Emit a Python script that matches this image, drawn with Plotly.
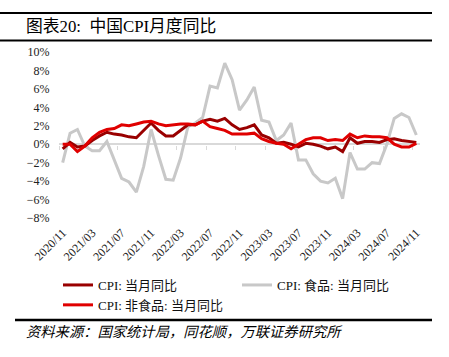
import plotly.graph_objects as go

# ---- data ----
months = ["2020/11", "2020/12"] + \
    [f"2021/{m:02d}" for m in range(1, 13)] + \
    [f"2022/{m:02d}" for m in range(1, 13)] + \
    [f"2023/{m:02d}" for m in range(1, 13)] + \
    [f"2024/{m:02d}" for m in range(1, 12)]

cpi = [-0.5, 0.2,
       -0.3, -0.2, 0.4, 0.9, 1.3, 1.1, 1.0, 0.8, 0.7, 1.5, 2.3, 1.5,
       0.9, 0.9, 1.5, 2.1, 2.1, 2.5, 2.7, 2.5, 2.8, 2.1, 1.6, 1.8,
       2.1, 1.0, 0.7, 0.1, 0.2, 0.0, -0.3, 0.1, 0.0, -0.2, -0.5, -0.3,
       -0.8, 0.7, 0.1, 0.3, 0.3, 0.2, 0.5, 0.6, 0.4, 0.3, 0.2]

food = [-2.0, 1.2,
        1.6, -0.2, -0.7, -0.7, 0.3, -1.7, -3.7, -4.1, -5.2, -2.4, 1.6, -1.2,
        -3.8, -3.9, -1.5, 1.9, 2.3, 2.9, 6.3, 6.1, 8.8, 7.0, 3.7, 4.8,
        6.2, 2.6, 2.4, 0.4, 1.0, 2.3, -1.7, -1.7, -3.2, -4.0, -4.2, -3.7,
        -5.9, -0.9, -2.7, -2.7, -2.0, -2.1, 0.0, 2.8, 3.3, 2.9, 1.0]

nonfood = [0.0, 0.0,
           -0.8, -0.2, 0.7, 1.3, 1.6, 1.7, 2.1, 2.0, 2.2, 2.4, 2.5, 2.2,
           2.0, 2.1, 2.2, 2.2, 2.1, 2.5, 1.9, 1.7, 1.5, 1.1, 1.1, 1.1,
           1.2, 0.6, 0.3, 0.1, 0.0, -0.5, 0.0, 0.5, 0.7, 0.7, 0.4, 0.5,
           0.4, 1.1, 0.7, 0.9, 0.8, 0.8, 0.7, 0.0, -0.3, -0.3, 0.1]

series_names = ["CPI: 当月同比", "CPI: 食品: 当月同比", "CPI: 非食品: 当月同比"]
x_tick_labels = ["2020/11", "2021/03", "2021/07", "2021/11", "2022/03", "2022/07",
                 "2022/11", "2023/03", "2023/07", "2023/11", "2024/03", "2024/07", "2024/11"]
y_tick_vals = [-8, -6, -4, -2, 0, 2, 4, 6, 8, 10]
y_tick_labels = ["−8%", "−6%", "−4%", "−2%", "0%", "2%", "4%", "6%", "8%", "10%"]

title_text = "图表20:  中国CPI月度同比"
source_text = "资料来源：国家统计局，同花顺，万联证券研究所"

# ---- layout constants ----
W, H = 449, 357
ML, MR, MT, MB = 59, 29, 52, 139
PW, PH = W - ML - MR, H - MT - MB


def px(x):
    return (x - ML) / PW


def py(y):
    return (H - MB - y) / PH


idx = list(range(len(months)))
tickvals_lbl = [months.index(m) for m in x_tick_labels]
boundary_ticks = [v - 0.5 for v in tickvals_lbl]

SERIF = "Times New Roman, Liberation Serif, Noto Sans CJK SC, serif"
CJK = "Liberation Serif, Noto Sans CJK SC, sans-serif"

fig = go.Figure()
fig.add_trace(go.Scatter(x=idx, y=cpi, name=series_names[0], mode="lines",
                         line=dict(color="#990000", width=3), xaxis="x2"))
fig.add_trace(go.Scatter(x=idx, y=food, name=series_names[1], mode="lines",
                         line=dict(color="#C8C8C8", width=3), xaxis="x"))
fig.add_trace(go.Scatter(x=idx, y=nonfood, name=series_names[2], mode="lines",
                         line=dict(color="#E00000", width=3), xaxis="x2"))

xrange = [-0.5, len(months) - 0.5]
fig.update_layout(
    width=W, height=H,
    margin=dict(l=ML, r=MR, t=MT, b=MB, autoexpand=False),
    paper_bgcolor="white", plot_bgcolor="white",
    showlegend=True,
    xaxis=dict(range=xrange, tickmode="array", tickvals=tickvals_lbl,
               ticktext=x_tick_labels, tickangle=-45, showgrid=False,
               zeroline=False, showline=False, ticks="outside", ticklen=2,
               tickcolor="rgba(0,0,0,0)",
               tickfont=dict(family=SERIF, size=12, color="#222")),
    xaxis2=dict(range=xrange, overlaying="x", anchor="free", position=py(144.5),
                tickmode="array", tickvals=boundary_ticks, showticklabels=False,
                ticks="outside", ticklen=4, tickcolor="#D9D9D9", tickwidth=1,
                showgrid=False, zeroline=False, showline=False,
                layer="below traces"),
    yaxis=dict(range=[-8, 10], tickmode="array", tickvals=y_tick_vals,
               ticktext=y_tick_labels, showgrid=False, zeroline=True,
               zerolinecolor="#D9D9D9", zerolinewidth=2, showline=False,
               ticks="outside", ticklen=6, tickcolor="rgba(0,0,0,0)",
               tickfont=dict(family=SERIF, size=12, color="#222")),
    legend=dict(orientation="h", x=px(58), y=py(270), xanchor="left", yanchor="top",
                entrywidth=134, entrywidthmode="pixels",
                font=dict(family=CJK, size=13, color="#111"),
                bgcolor="rgba(0,0,0,0)", tracegroupgap=0),
    shapes=[
        dict(type="line", xref="paper", yref="paper", x0=px(0), x1=px(432),
             y0=py(13), y1=py(13), line=dict(color="black", width=2)),
        dict(type="line", xref="paper", yref="paper", x0=px(0), x1=px(432),
             y0=py(40.5), y1=py(40.5), line=dict(color="black", width=2)),
        dict(type="line", xref="paper", yref="paper", x0=px(15), x1=px(432),
             y0=py(320), y1=py(320), line=dict(color="black", width=2.5)),
    ],
    annotations=[
        dict(text=title_text, xref="paper", yref="paper", x=px(24), y=py(27),
             xanchor="left", yanchor="middle", showarrow=False,
             font=dict(family=CJK, size=16.8, color="black")),
        dict(text="<i>" + source_text + "</i>", xref="paper", yref="paper",
             x=px(24), y=py(332), xanchor="left", yanchor="middle", showarrow=False,
             font=dict(family=CJK, size=14.3, color="black")),
    ],
)

fig.write_html("out.html", config={"displayModeBar": False},
               post_script="document.body.style.margin='0';document.body.style.padding='0';")
